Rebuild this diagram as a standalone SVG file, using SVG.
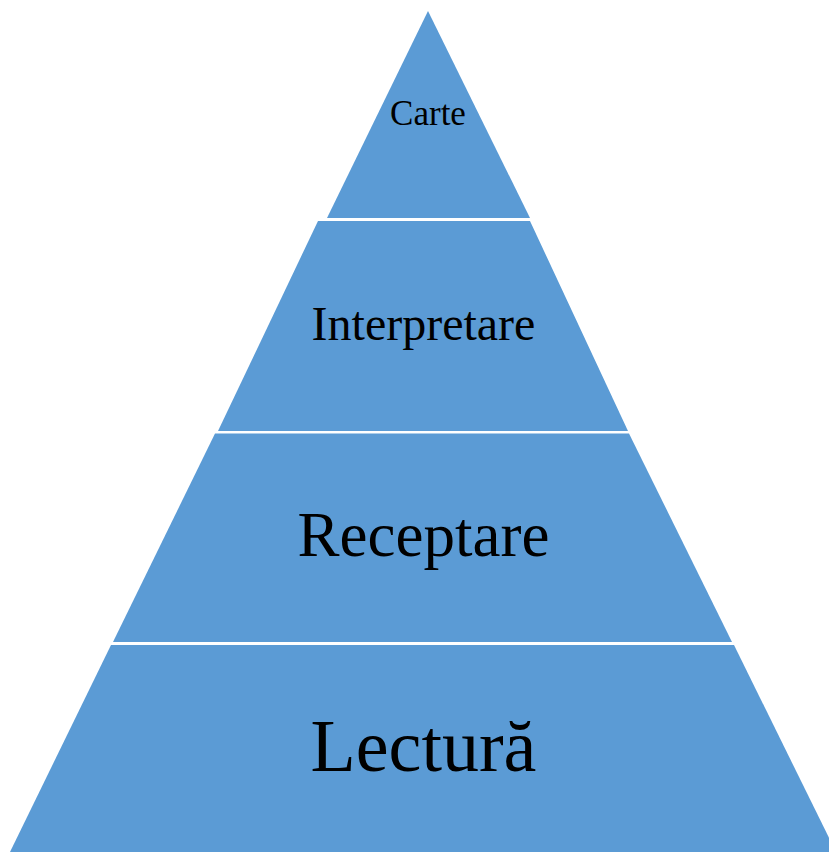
<svg xmlns="http://www.w3.org/2000/svg" width="829" height="852" viewBox="0 0 829 852">
<style>
.band{fill:#5B9BD5;stroke:none}
.lbl{font-family:"Liberation Serif","Times New Roman",serif;fill:#000;text-anchor:middle}
</style>
<rect width="829" height="852" fill="#fff"/>
<g id="carte">
<polygon class="band" points="428,11 530,218 327,218"/>
<text class="lbl" x="428" y="125" font-size="35">Carte</text>
</g>
<g id="interpretare">
<polygon class="band" points="318,221 530,221 628,431 218,431"/>
<text class="lbl" x="423.5" y="340" font-size="48">Interpretare</text>
</g>
<g id="receptare">
<polygon class="band" points="215,433.5 629,433.5 732,642 113,642"/>
<text class="lbl" x="423.5" y="556" font-size="63">Receptare</text>
</g>
<g id="lectura">
<polygon class="band" points="111,645 734,645 836,852 10,852"/>
<text class="lbl" x="423.5" y="771" font-size="74">Lectură</text>
</g>
<g id="connectors"></g>
</svg>
